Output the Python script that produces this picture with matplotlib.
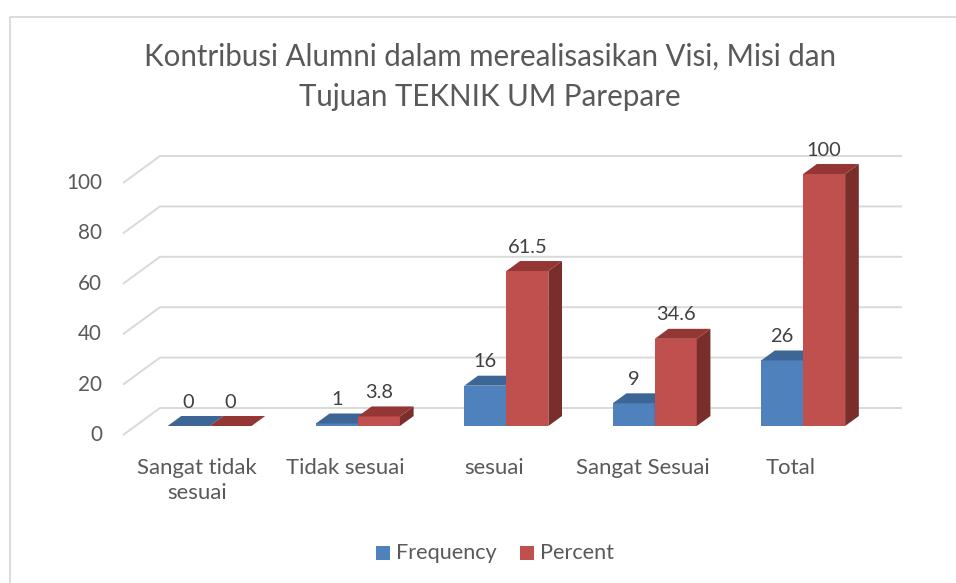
import matplotlib
matplotlib.use("Agg")
import matplotlib.pyplot as plt
from matplotlib.patches import Polygon, Rectangle
from matplotlib.transforms import Affine2D

# ---------------- data ----------------
categories = ["Sangat tidak\nsesuai", "Tidak sesuai", "sesuai", "Sangat Sesuai", "Total"]
frequency = [0, 1, 16, 9, 26]
percent = [0, 3.8, 61.5, 34.6, 100]
freq_labels = ["0", "1", "16", "9", "26"]
pct_labels = ["0", "3.8", "61.5", "34.6", "100"]
series_names = ["Frequency", "Percent"]
yticks = [0, 20, 40, 60, 80, 100]
title = "Kontribusi Alumni dalam merealisasikan Visi, Misi dan\nTujuan TEKNIK UM Parepare"

# ---------------- style ----------------
W, H = 956, 583
FONT = "Lato"
plt.rcParams["font.family"] = [FONT, "DejaVu Sans"]
GRID = "#D9D9D9"
TXT = "#595959"
LBL = "#404040"
colors = {
    "Frequency": ("#4F81BD", "#3D6595", "#35597F"),
    "Percent": ("#C0504D", "#943634", "#7A2E2C"),
}

fig = plt.figure(figsize=(W / 100, H / 100), dpi=100)
ax = fig.add_axes([0, 0, 1, 1])
ax.axis("off")
pix = Affine2D().scale(1.0 / W, -1.0 / H).translate(0, 1) + fig.transFigure

# layout in pixels
X0_PX = 123.0     # front-left of floor
CAT_PX = 148.4    # category width
Y0_PX = 435.0     # value 0 at floor front (from top)
UNIT_PX = 2.52    # pixels per value unit
n = len(categories)
ax.set_xlim(-0.5 - X0_PX / CAT_PX, -0.5 + (W - X0_PX) / CAT_PX)
ax.set_ylim(-(H - Y0_PX) / UNIT_PX, Y0_PX / UNIT_PX)

DX = 37.0 / CAT_PX
DY = 27.0 / UNIT_PX
F0 = 1.0 / 3.0
FD = 0.37
BW = 42.0 / CAT_PX

renderer = fig.canvas.get_renderer()


def fit(txt, target_px):
    w = txt.get_window_extent(renderer).width
    txt.set_fontsize(txt.get_fontsize() * target_px / w)


# border
fig.patches.append(Rectangle((10.5, 16.5), 1000, 1000, transform=pix, fill=False,
                             edgecolor=GRID, lw=1.3))

# gridlines + tick labels
tick_texts = []
for v in yticks:
    ax.plot([-0.5, -0.5 + DX, n - 0.5 + DX], [v, v + DY, v + DY], color=GRID,
            lw=1.4, zorder=1, solid_capstyle="butt")
    t = ax.text(-0.5 - 21.0 / CAT_PX, v, str(v), ha="right", va="center",
                color=TXT, fontsize=15)
    tick_texts.append(t)
s = tick_texts[-1]
fit(s, 36)
for t in tick_texts:
    t.set_fontsize(s.get_fontsize())


def bar3d(xl, h, cols):
    ox, oy = F0 * DX, F0 * DY
    bx, by = FD * DX, FD * DY
    front, top, side = cols
    x0 = xl + ox
    if h > 0:
        ax.add_patch(Rectangle((x0, oy), BW, h, facecolor=front, edgecolor="none", zorder=3))
        ax.add_patch(Polygon([(x0 + BW, oy), (x0 + BW + bx, oy + by),
                              (x0 + BW + bx, oy + h + by), (x0 + BW, oy + h)],
                             closed=True, facecolor=side, edgecolor="none", zorder=3))
    ax.add_patch(Polygon([(x0, oy + h), (x0 + BW, oy + h), (x0 + BW + bx, oy + h + by),
                          (x0 + bx, oy + h + by)], closed=True, facecolor=top,
                         edgecolor="none", zorder=3))
    return x0 + BW / 2, oy + h + by + 14.0 / UNIT_PX


data_texts = []
for i in range(n):
    for k, (vals, labs) in enumerate(((frequency, freq_labels), (percent, pct_labels))):
        xl = i - BW if k == 0 else i
        lx, ly = bar3d(xl, vals[i], colors[series_names[k]])
        t = ax.text(lx, ly, labs[i], ha="center", va="center", color=LBL, fontsize=15, zorder=5)
        data_texts.append((labs[i], t))
ref = [t for l, t in data_texts if l == "100"][0]
fit(ref, 35)
for _, t in data_texts:
    t.set_fontsize(ref.get_fontsize())

# category labels
cat_texts = []
for i, c in enumerate(categories):
    t = ax.text(i, -(458 - Y0_PX) / UNIT_PX, c, ha="center", va="top", color=TXT,
                fontsize=15, linespacing=1.3)
    cat_texts.append(t)
fit(cat_texts[1], 118)
for t in cat_texts:
    t.set_fontsize(cat_texts[1].get_fontsize())

# title
tmp = fig.text(0, 0, title.split("\n")[0], fontsize=20)
w = tmp.get_window_extent(renderer).width
tsize = 20 * 695.0 / w
tmp.remove()
fig.text(490, 77, title, transform=pix, ha="center", va="center", color=TXT,
         fontsize=tsize, linespacing=1.5)

# legend
leg_x = [376, 520]
leg_texts = []
for k, name in enumerate(series_names):
    fig.patches.append(Rectangle((leg_x[k], 546), 14, 14, transform=pix,
                                 facecolor=colors[name][0], edgecolor="none"))
    t = fig.text(leg_x[k] + 20, 553, name, transform=pix, ha="left", va="center",
                 color=TXT, fontsize=15)
    leg_texts.append(t)
fit(leg_texts[0], 101)
leg_texts[1].set_fontsize(leg_texts[0].get_fontsize())

fig.savefig("out.png", dpi=100)
